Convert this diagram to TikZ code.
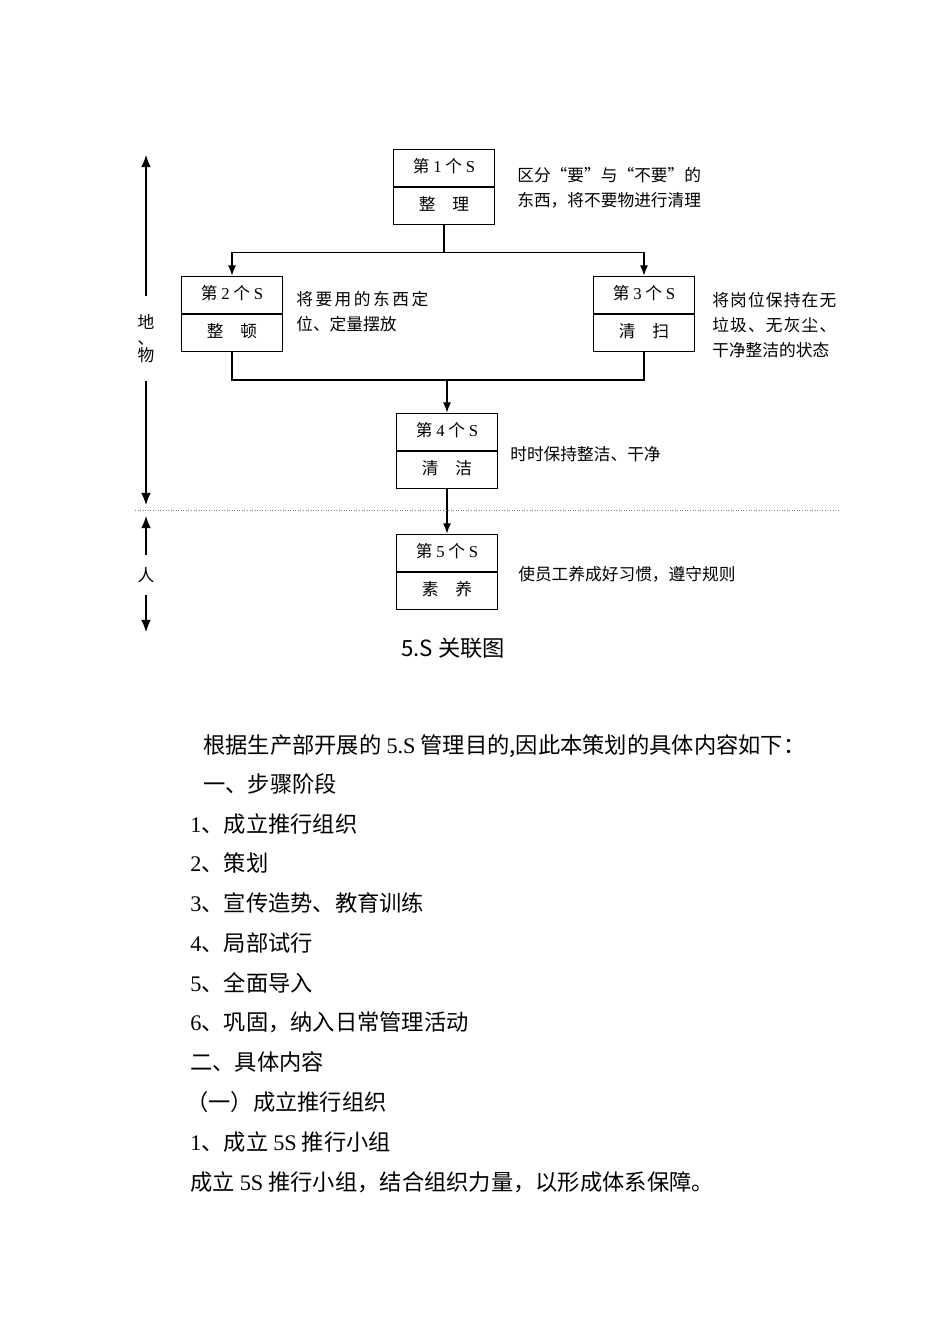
\documentclass[tikz,border=0pt]{standalone}
\usepackage{fontspec}
\setmainfont{Noto Sans CJK SC}
\newfontfamily\lat{Liberation Serif}
\newfontfamily\spreada[LetterSpace=15]{Noto Sans CJK SC}
\newfontfamily\spreadb[LetterSpace=7]{Noto Sans CJK SC}
\usetikzlibrary{arrows.meta, shapes.multipart, positioning}

\newcommand{\pstrut}{\rule[-1.3mm]{0pt}{4.6mm}}
\newcommand{\sname}[2]{\pstrut 第 {\lat #1} 个 {\lat S}\nodepart{two}\pstrut #2}

\begin{document}
\begin{tikzpicture}[x=0.2209mm, y=-0.2209mm,
  sbox/.style={draw, line width=0.7pt, rectangle split, rectangle split parts=2,
    minimum width=22.5mm, inner xsep=1mm, inner ysep=1.75mm,
    font=\fontsize{10.5pt}{12pt}\selectfont},
  arr/.style={-{Latex[length=2.3mm,width=1.8mm]}, line width=0.8pt},
  bigarr/.style={-{Latex[length=2.7mm,width=2.2mm]}, line width=0.9pt},
  desc/.style={anchor=west, inner sep=0pt, align=left, font=\fontsize{10.5pt}{5.5mm}\selectfont},
  side/.style={inner xsep=0pt, align=center, font=\fontsize{10.5pt}{3.65mm}\selectfont},
  body/.style={anchor=west, inner sep=0pt, text height=4.35mm, text depth=0.6mm,
    font=\fontsize{14pt}{16pt}\selectfont}]
\useasboundingbox (0,0) rectangle (950,1344);

%the five S boxes
\node[sbox] (s1) at (444,187) {\sname{1}{整\quad 理}};
\node[sbox] (s2) at (232,314) {\sname{2}{整\quad 顿}};
\node[sbox] (s3) at (644,314) {\sname{3}{清\quad 扫}};
\node[sbox] (s4) at (447,451) {\sname{4}{清\quad 洁}};
\node[sbox] (s5) at (447,572) {\sname{5}{素\quad 养}};

%connectors
\draw[arr] (s1.south) -- ++(0,27) -| (s2.north);
\draw[arr] (s1.south) -- ++(0,27) -| (s3.north);
\coordinate (join) at (447,380);
\draw[line width=0.8pt] (s2.south) |- (join) -| (s3.south);
\draw[arr] (join) -- (s4.north);
\draw[arr] (s4.south) -- (s5.north);

%divider between things and people
\draw[densely dotted, gray, line width=0.6pt] (135,510) -- (838,510);

%descriptions
\node[desc] (d1) at (517,187.5) {区分“要”与“不要”的\\东西，将不要物进行清理};
\node[desc] (d2) at (296,311.5) {{\spreada 将要用的东西定}\\位、定量摆放};
\node[desc] (d3) at (712,325) {{\spreadb 将岗位保持在无}\\{\spreadb 垃圾、无灰尘、}\\干净整洁的状态};
\node[desc] (d4) at (510,454) {时时保持整洁、干净};
\node[desc] (d5) at (518,574) {使员工养成好习惯，遵守规则};

%left side arrows
\node[side, inner ysep=4mm] (wu) at (146,338.5) {地\\、\\物};
\coordinate (wtop) at (146,155);
\coordinate (wbot) at (146,505);
\draw[bigarr] (wu.north) -- (wtop);
\draw[bigarr] (wu.south) -- (wbot);
\node[side, inner ysep=2.6mm] (ren) at (146,575) {人};
\coordinate (rtop) at (146,516);
\coordinate (rbot) at (146,632);
\draw[bigarr] (ren.north) -- (rtop);
\draw[bigarr] (ren.south) -- (rbot);

\node[font=\fontsize{14pt}{16pt}\selectfont] (title) at (453,648) {5.S 关联图};

%text below the figure
\node[body] (l1) at (203,745) {根据生产部开展的 {\lat 5.S} 管理目的,因此本策划的具体内容如下：};
\node[body] (l2) at (203,784) {一、步骤阶段};
\node[body] (l3) at (190,824) {{\lat 1}、成立推行组织};
\node[body] (l4) at (190,863) {{\lat 2}、策划};
\node[body] (l5) at (190,903) {{\lat 3}、宣传造势、教育训练};
\node[body] (l6) at (190,943) {{\lat 4}、局部试行};
\node[body] (l7) at (190,983) {{\lat 5}、全面导入};
\node[body] (l8) at (190,1022) {{\lat 6}、巩固，纳入日常管理活动};
\node[body] (l9) at (190,1062) {二、具体内容};
\node[body] (l10) at (186,1102) {（一）成立推行组织};
\node[body] (l11) at (190,1142) {{\lat 1}、成立 {\lat 5S} 推行小组};
\node[body] (l12) at (190,1182) {成立 {\lat 5S} 推行小组，结合组织力量，以形成体系保障。};

\end{tikzpicture}
\end{document}
